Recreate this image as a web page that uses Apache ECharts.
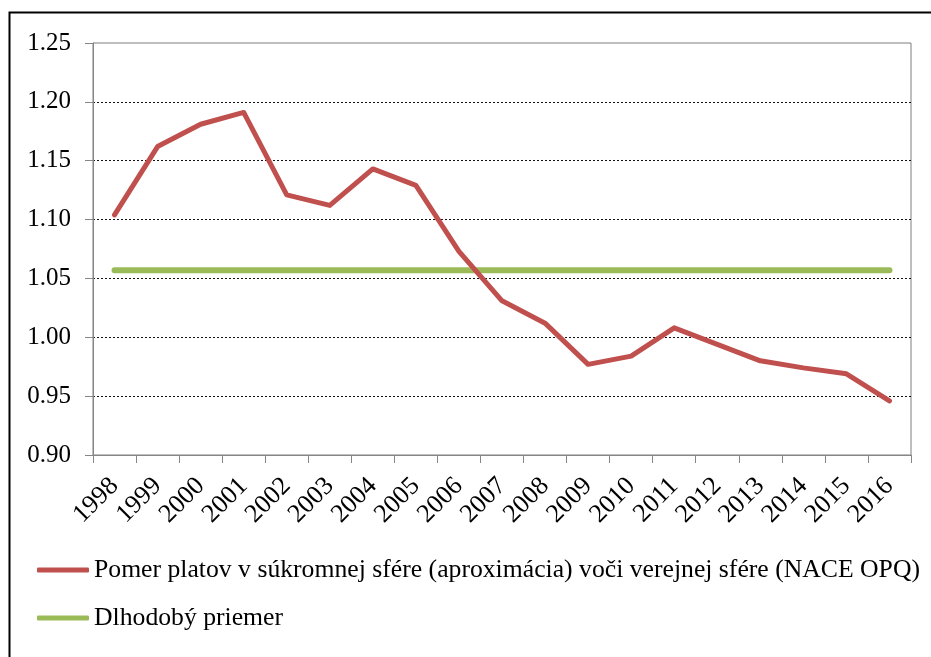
<!DOCTYPE html>
<html>
<head>
<meta charset="utf-8">
<script src="https://cdn.jsdelivr.net/npm/echarts@6/dist/echarts.min.js"></script>
<style>
html,body{margin:0;padding:0;background:#fff;}
#chart{width:931px;height:657px;}
</style>
</head>
<body>
<div id="chart"></div>
<script>
const years = ['1998','1999','2000','2001','2002','2003','2004','2005','2006','2007','2008','2009','2010','2011','2012','2013','2014','2015','2016'];
const wageRatio = [1.104,1.162,1.181,1.191,1.121,1.112,1.143,1.129,1.073,1.031,1.012,0.977,0.984,1.008,0.994,0.980,0.974,0.969,0.946];
const longTermAverage = [1.057,1.057,1.057,1.057,1.057,1.057,1.057,1.057,1.057,1.057,1.057,1.057,1.057,1.057,1.057,1.057,1.057,1.057,1.057];
const seriesNames = ['Pomer platov v súkromnej sfére (aproximácia) voči verejnej sfére (NACE OPQ)','Dlhodobý priemer'];

const FONT = '"Liberation Serif", "DejaVu Serif", serif';
const chart = echarts.init(document.getElementById('chart'));
chart.setOption({
  animation: false,
  backgroundColor: '#fff',
  textStyle: {fontFamily: FONT, color: '#000'},
  graphic: [{
    type: 'rect',
    left: 7, top: 10,
    shape: {width: 1000, height: 1000},
    style: {fill: 'none', stroke: '#000', lineWidth: 2},
    silent: true
  }],
  grid: {
    left: 93, right: 20, top: 43, bottom: 202,
    containLabel: false,
    outerBoundsMode: 'none',
    show: true, borderColor: '#7f7f7f', borderWidth: 1, backgroundColor: 'transparent'
  },
  legend: {
    orient: 'vertical',
    left: 32, top: 551,
    icon: 'roundRect',
    itemWidth: 52, itemHeight: 5, itemGap: 20,
    textStyle: {fontFamily: FONT, fontSize: 25.7, color: '#000', lineHeight: 28},
    data: seriesNames
  },
  xAxis: {
    type: 'category',
    data: years,
    boundaryGap: true,
    axisLine: {lineStyle: {color: '#868686', width: 1}},
    axisTick: {show: true, length: 8, lineStyle: {color: '#868686'}},
    axisLabel: {rotate: 45, margin: 27, fontFamily: FONT, fontSize: 26, color: '#000', interval: 0},
    splitLine: {show: false}
  },
  yAxis: {
    type: 'value',
    min: 0.9, max: 1.25, interval: 0.05,
    axisLine: {show: true, lineStyle: {color: '#868686', width: 1}},
    axisTick: {show: true, length: 8, lineStyle: {color: '#868686'}},
    axisLabel: {margin: 22, fontFamily: FONT, fontSize: 25, color: '#000',
      formatter: v => v.toFixed(2)},
    splitLine: {show: true, showMinLine: false, showMaxLine: false,
      lineStyle: {color: '#111', width: 1, type: [2, 2]}}
  },
  series: [
    {
      name: seriesNames[0], type: 'line', data: wageRatio,
      symbol: 'none', lineStyle: {color: '#c0504d', width: 5, cap: 'round', join: 'round'},
      itemStyle: {color: '#c0504d'}, z: 3
    },
    {
      name: seriesNames[1], type: 'line', data: longTermAverage,
      symbol: 'none', lineStyle: {color: '#9bbb59', width: 6, cap: 'round'},
      itemStyle: {color: '#9bbb59'}, z: 2
    }
  ]
});
</script>
</body>
</html>
